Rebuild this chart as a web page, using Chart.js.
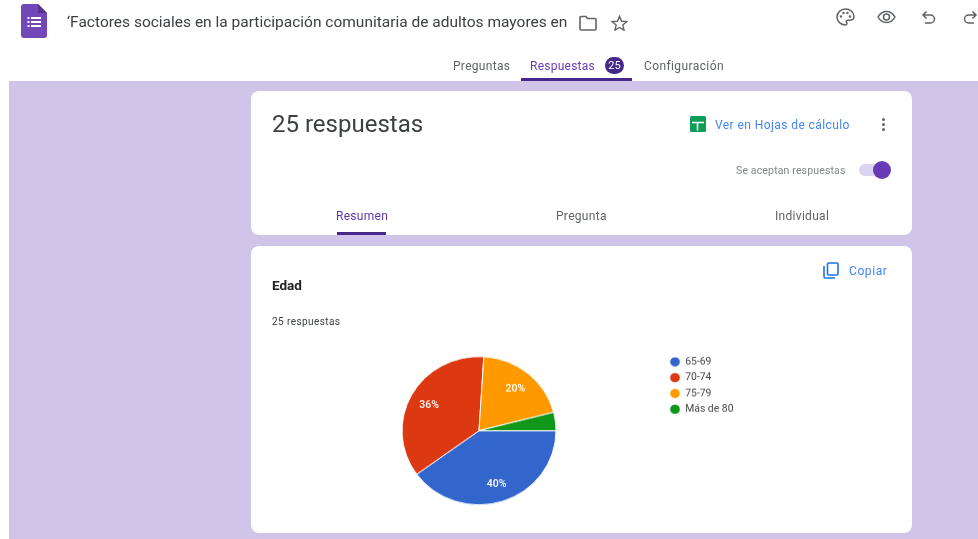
<!DOCTYPE html>
<html>
<head>
<meta charset="utf-8">
<script src="https://cdn.jsdelivr.net/npm/chart.js@4"></script>
<style>
  html, body { margin: 0; padding: 0; }
  body { width: 978px; height: 539px; overflow: hidden; position: relative; background: #fff; font-family: Roboto, sans-serif; filter: blur(.35px); }
  .t { position: absolute; white-space: nowrap; line-height: 1; }
  .bg { position: absolute; left: 9px; top: 81px; width: 969px; height: 458px; background: #d1c4e9; }
  .card { position: absolute; left: 251px; width: 661px; background: #fff; border-radius: 8px; }
  svg { position: absolute; }
  /* the screenshot is a bit stretched sideways, so the pie is squashed a little in y */
  #chartBox { position: absolute; left: 293.5px; top: 348.3px; width: 449.5px; height: 165.4px; transform: scaleY(.963); }
</style>
</head>
<body>
<div class="bg"></div>

<!-- header -->
<svg style="left:21px;top:4px" width="26" height="34" viewBox="0 0 26 34">
  <path d="M3 0H17L26 9V31a3 3 0 0 1-3 3H3a3 3 0 0 1-3-3V3a3 3 0 0 1 3-3z" fill="#7248b9"/>
  <path d="M17 0L26 9H17z" fill="#56348f"/>
  <g fill="#fff"><rect x="6.500" y="13" width="2" height="2"/><rect x="6.500" y="17" width="2" height="2"/><rect x="6.500" y="21" width="2" height="2"/>
  <rect x="10" y="13" width="10" height="2"/><rect x="10" y="17" width="10" height="2"/><rect x="10" y="21" width="10" height="2"/></g>
</svg>
<div class="t" style="left:67px;top:15px;font-size:15.500px;color:#3c4043">‘Factores sociales en la participación comunitaria de adultos mayores en</div>
<svg style="left:579px;top:15px" width="18" height="16" viewBox="0 0 18 16"><path d="M1 2.500V14a1 1 0 0 0 1 1H16a1 1 0 0 0 1-1V4.500a1 1 0 0 0-1-1H8.500L7 1.500H2a1 1 0 0 0-1 1z" fill="none" stroke="#5f6368" stroke-width="1.600"/></svg>
<svg style="left:611px;top:15px" width="17" height="16" viewBox="0 0 24 23"><path d="M12 2l3 7 7.500.6-5.700 4.900 1.700 7.300L12 18l-6.500 3.800 1.700-7.300L1.500 9.600 9 9z" fill="none" stroke="#5f6368" stroke-width="2"/></svg>
<svg style="left:836px;top:8px" width="19" height="18" viewBox="0 0 19 18"><path d="M9.500 1C4.800 1 1 4.600 1 9s3.800 8 8.500 8c1 0 1.500-.7 1.500-1.400 0-1-.8-1.200-.8-2.100 0-.8.700-1.300 1.500-1.300h2.300c2.400 0 4-1.500 4-3.600C18 4.300 14.200 1 9.500 1z" fill="none" stroke="#5f6368" stroke-width="1.500"/><g fill="#5f6368"><circle cx="5" cy="8.500" r="1.200"/><circle cx="7.500" cy="5" r="1.200"/><circle cx="11.500" cy="5" r="1.200"/><circle cx="14" cy="8.500" r="1.200"/></g></svg>
<svg style="left:877px;top:10px" width="19" height="14" viewBox="0 0 19 14"><path d="M1 7C3 3.400 6 1.500 9.500 1.500S16 3.400 18 7c-2 3.600-5 5.500-8.500 5.500S3 10.600 1 7z" fill="none" stroke="#5f6368" stroke-width="1.500"/><circle cx="9.500" cy="7" r="3" fill="none" stroke="#5f6368" stroke-width="1.500"/></svg>
<svg style="left:921px;top:10px" width="15" height="15" viewBox="0 0 15 15"><path d="M5.500 1.500L2 5l3.500 3.500M2 5h7.500a4 4 0 0 1 0 8H4" fill="none" stroke="#5f6368" stroke-width="1.500"/></svg>
<svg style="left:963px;top:10px" width="15" height="15" viewBox="0 0 15 15"><path d="M9.500 1.500L13 5 9.500 8.500M13 5H5.500a4 4 0 0 0 0 8H11" fill="none" stroke="#5f6368" stroke-width="1.500"/></svg>

<!-- tabs -->
<div class="t" style="left:453px;top:60px;font-size:12px;color:#5f6368;letter-spacing:.3px">Preguntas</div>
<div class="t" style="left:530px;top:60px;font-size:12px;color:#673ab7;letter-spacing:.25px">Respuestas</div>
<div class="t" style="left:605px;top:57px;width:19px;height:17px;border-radius:9px;background:#46278a;color:#fff;font-size:11px;line-height:17px;text-align:center">25</div>
<div class="t" style="left:644px;top:60px;font-size:12px;color:#5f6368;letter-spacing:.4px">Configuración</div>
<div style="position:absolute;left:521px;top:78px;width:111px;height:3px;background:#46278a"></div>

<!-- top card -->
<div class="card" style="top:91px;height:144px"></div>
<div class="t" style="left:272px;top:112px;font-size:24px;color:#3c4043">25 respuestas</div>
<svg style="left:690px;top:116px" width="16" height="16" viewBox="0 0 16 16"><rect width="16" height="16" rx="1.500" fill="#0f9d58"/><path d="M2 6.500h12M7.500 6.500v8" stroke="#fff" stroke-width="1.500"/></svg>
<div class="t" style="left:715px;top:119px;font-size:12px;color:#4285f4;letter-spacing:.42px">Ver en Hojas de cálculo</div>
<svg style="left:881px;top:117px" width="5" height="15" viewBox="0 0 5 15"><g fill="#5f6368"><circle cx="2.500" cy="2.500" r="1.500"/><circle cx="2.500" cy="7.500" r="1.500"/><circle cx="2.500" cy="12.500" r="1.500"/></g></svg>
<div class="t" style="left:736px;top:166px;font-size:10.500px;color:#80868b;letter-spacing:.15px">Se aceptan respuestas</div>
<div style="position:absolute;left:859px;top:164px;width:30px;height:12px;border-radius:6px;background:#dcd3ee"></div>
<div style="position:absolute;left:873px;top:161px;width:18px;height:18px;border-radius:50%;background:#673ab7"></div>
<div class="t" style="left:336px;top:210px;font-size:12px;color:#5e35a8;letter-spacing:.3px">Resumen</div>
<div class="t" style="left:556px;top:210px;font-size:12px;color:#5f6368;letter-spacing:.3px">Pregunta</div>
<div class="t" style="left:775px;top:210px;font-size:12px;color:#5f6368;letter-spacing:.3px">Individual</div>
<div style="position:absolute;left:337px;top:232px;width:49px;height:3px;background:#46278a"></div>

<!-- question card -->
<div class="card" style="top:246px;height:287px"></div>
<div class="t" style="left:272px;top:279px;font-size:13.500px;font-weight:700;color:#202124">Edad</div>
<div class="t" style="left:272px;top:317px;font-size:10px;color:#3c4043;letter-spacing:.42px">25 respuestas</div>
<svg style="left:823px;top:262px" width="16" height="17" viewBox="0 0 16 17"><path d="M1 4v10.500a1.500 1.500 0 0 0 1.500 1.500H12" fill="none" stroke="#1a73e8" stroke-width="1.600"/><rect x="4.500" y="1" width="10.500" height="12" rx="1.200" fill="none" stroke="#1a73e8" stroke-width="1.600"/></svg>
<div class="t" style="left:849px;top:265px;font-size:12px;color:#4285f4;letter-spacing:.6px">Copiar</div>

<div id="chartBox"><canvas id="edadChart"></canvas></div>

<script>
const categories = ['65-69', '70-74', '75-79', 'Más de 80'];
const responses = [10, 9, 5, 1];
const sliceColors = ['#3366cc', '#dc3912', '#ff9900', '#109618'];
const total = responses.reduce((a, b) => a + b, 0);

// percentages on the slices, small ones stay empty like in Forms
const sliceLabels = {
  id: 'sliceLabels',
  afterDatasetsDraw(chart) {
    const ctx = chart.ctx;
    const arcs = chart.getDatasetMeta(0).data;
    ctx.save();
    ctx.font = '500 10.5px Roboto';
    ctx.fillStyle = '#fff';
    ctx.textAlign = 'center';
    ctx.textBaseline = 'middle';
    arcs.forEach((arc, i) => {
      const pct = responses[i] / total * 100;
      if (pct < 10) return;
      const mid = (arc.startAngle + arc.endAngle) / 2;
      const r = arc.outerRadius * 0.74;
      ctx.fillText(Math.round(pct) + '%', arc.x + Math.cos(mid) * r, arc.y + Math.sin(mid) * r + 1);
    });
    ctx.restore();
  }
};

new Chart(document.getElementById('edadChart'), {
  type: 'pie',
  data: {
    labels: categories,
    datasets: [{
      data: responses,
      backgroundColor: sliceColors,
      borderColor: '#fff',
      borderWidth: 1,
      radius: 77,
      rotation: 90
    }]
  },
  options: {
    responsive: true,
    maintainAspectRatio: false,
    animation: false,
    plugins: {
      tooltip: { enabled: false },
      legend: {
        position: 'right',
        align: 'start',
        labels: {
          usePointStyle: true,
          pointStyle: 'circle',
          boxWidth: 10,
          boxHeight: 7.5,
          padding: 6,
          color: '#444',
          font: { family: 'Roboto', size: 10.4 }
        }
      }
    }
  },
  plugins: [sliceLabels]
});
</script>
</body>
</html>
